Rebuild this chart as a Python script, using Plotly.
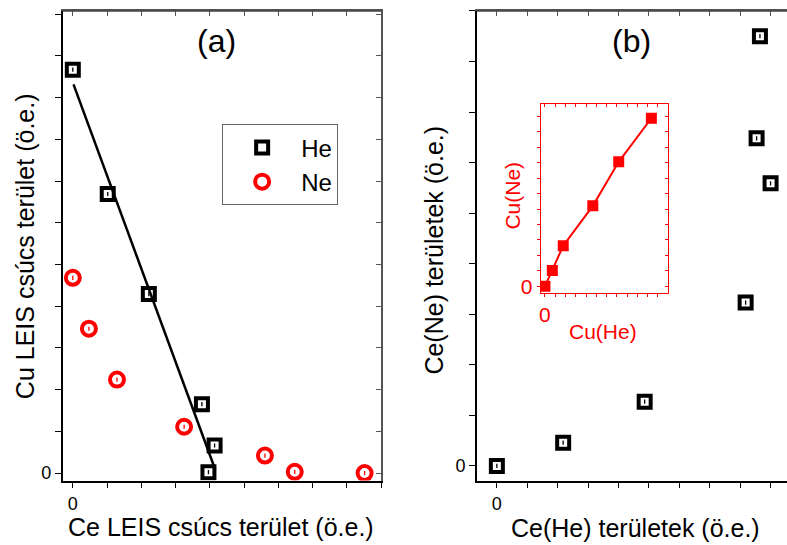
import plotly.graph_objects as go

# ---------------- data ----------------
# panel (a)
he_ce = [0.0, 1.02, 2.22, 3.77, 4.14, 3.96]
he_cu = [9.67, 6.69, 4.29, 1.65, 0.66, 0.02]
ne_ce = [0.0, 0.47, 1.29, 3.25, 5.61, 6.48, 8.52]
ne_cu = [4.68, 3.46, 2.24, 1.11, 0.42, 0.03, 0.0]
fit_x = [0.02, 4.16]
fit_y = [9.32, 0.08]
# panel (b)
ce_he = [0.0, 2.18, 4.86, 8.18, 9.00, 8.54, 8.65]
ce_ne = [0.0, 0.46, 1.27, 3.23, 5.59, 6.48, 8.50]
# inset
cu_he = [0.0, 0.72, 1.78, 4.66, 7.18, 10.36]
cu_ne = [0.0, 1.03, 2.63, 5.21, 8.06, 10.88]

# ticks
xa_ticks = list(range(0, 10))
ya_ticks = list(range(0, 12))
xb_ticks = list(range(0, 10))
yb_ticks = list(range(0, 10))
xi_ticks = list(range(0, 12))
yi_ticks = list(range(0, 12))


def lab(t):
    return ["0"] + [""] * (len(t) - 1)


W, H = 787, 545
FONT = "Arial, Liberation Sans, sans-serif"
RED = "#ff0000"


def px(x):
    return x / W


def py(y):
    return (H - y) / H


fig = go.Figure()


def dots(x, y, color, xa, ya):
    fig.add_trace(go.Scatter(x=x, y=y, mode="markers", showlegend=False, hoverinfo="skip",
                             marker=dict(symbol="line-ns-open", size=3, color=color,
                                         line=dict(width=1.3, color=color)),
                             xaxis=xa, yaxis=ya))


fig.add_trace(go.Scatter(x=fit_x, y=fit_y, mode="lines", line=dict(color="black", width=2.5),
                         showlegend=False, xaxis="x", yaxis="y"))
fig.add_trace(go.Scatter(x=he_ce, y=he_cu, mode="markers", name="He",
                         marker=dict(symbol="square-open", size=12, color="black",
                                     line=dict(width=4, color="black")),
                         xaxis="x", yaxis="y"))
dots(he_ce, he_cu, "black", "x", "y")
fig.add_trace(go.Scatter(x=ne_ce, y=ne_cu, mode="markers", name="Ne",
                         marker=dict(symbol="circle-open", size=14, color=RED,
                                     line=dict(width=4, color=RED)),
                         xaxis="x", yaxis="y"))
dots(ne_ce, ne_cu, RED, "x", "y")
fig.add_trace(go.Scatter(x=ce_he, y=ce_ne, mode="markers", showlegend=False,
                         marker=dict(symbol="square-open", size=12, color="black",
                                     line=dict(width=4, color="black")),
                         xaxis="x2", yaxis="y2"))
dots(ce_he, ce_ne, "black", "x2", "y2")
fig.add_trace(go.Scatter(x=cu_he, y=cu_ne, mode="lines+markers", showlegend=False,
                         line=dict(color=RED, width=2),
                         marker=dict(symbol="square", size=11, color=RED),
                         xaxis="x5", yaxis="y5"))

# empty traces so that the mirror axes get drawn
for xa, ya in [("x3", "y"), ("x", "y3"), ("x4", "y2"), ("x6", "y5"), ("x5", "y6")]:
    fig.add_trace(go.Scatter(x=[None], y=[None], mode="markers", showlegend=False,
                             hoverinfo="skip", xaxis=xa, yaxis=ya))

dom_y = [py(485), py(11)]
dom_xa = [px(60.7), px(380)]
dom_xb = [px(476), 1.0]
main_ax = dict(showline=True, linecolor="black", linewidth=1.5, ticks="outside", ticklen=6,
               tickwidth=1, tickcolor="black", showgrid=False, zeroline=False,
               tickfont=dict(size=18, color="black", family=FONT), tickmode="array")
mir_ax = dict(showline=True, linecolor="#555", linewidth=1.5, ticks="inside", ticklen=5,
              tickwidth=1, tickcolor="#555", showgrid=False, zeroline=False,
              showticklabels=False, tickmode="array")

xa_rng = [-0.3, 9.0]
ya_rng = [-0.18, 11.08]
xb_rng = [-0.66, 9.54]
yb_rng = [-0.29, 9.0]
xi_rng = [-0.42, 11.94]
yi_rng = [-0.43, 11.8]

ins_ax = dict(showline=True, linecolor=RED, linewidth=1, ticklen=3, tickwidth=1,
              tickcolor=RED, showgrid=False, zeroline=False, tickmode="array",
              tickfont=dict(size=21, color=RED, family=FONT))
ins_mir = dict(ins_ax, ticks="inside", showticklabels=False)

fig.update_layout(
    width=W, height=H, margin=dict(l=0, r=0, t=0, b=0),
    paper_bgcolor="white", plot_bgcolor="rgba(0,0,0,0)",
    font=dict(family=FONT, color="black"),
    xaxis=dict(main_ax, domain=dom_xa, range=xa_rng, anchor="y",
               tickvals=xa_ticks, ticktext=lab(xa_ticks)),
    yaxis=dict(main_ax, domain=dom_y, range=ya_rng, anchor="x",
               tickvals=ya_ticks, ticktext=lab(ya_ticks)),
    xaxis3=dict(mir_ax, overlaying="x", side="top", anchor="y",
                range=xa_rng, tickvals=xa_ticks),
    yaxis3=dict(mir_ax, overlaying="y", side="right", anchor="x", range=ya_rng,
                tickvals=ya_ticks),
    xaxis2=dict(main_ax, domain=dom_xb, range=xb_rng, anchor="y2",
                tickvals=xb_ticks, ticktext=lab(xb_ticks)),
    yaxis2=dict(main_ax, domain=dom_y, range=yb_rng, anchor="x2",
                tickvals=yb_ticks, ticktext=lab(yb_ticks)),
    xaxis4=dict(mir_ax, overlaying="x2", side="top", anchor="y2",
                range=xb_rng, tickvals=xb_ticks),
    xaxis5=dict(ins_ax, domain=[px(540), px(667.3)], range=xi_rng, anchor="y5",
                ticks="outside", tickvals=xi_ticks, ticktext=lab(xi_ticks)),
    yaxis5=dict(ins_ax, domain=[py(295.7), py(105)], range=yi_rng, anchor="x5",
                ticks="outside", tickvals=yi_ticks, ticktext=lab(yi_ticks)),
    xaxis6=dict(ins_mir, overlaying="x5", side="top", anchor="y5", range=xi_rng,
                tickvals=xi_ticks),
    yaxis6=dict(ins_mir, overlaying="y5", side="right", anchor="x5", range=yi_rng,
                tickvals=yi_ticks),
    legend=dict(x=px(220.7), y=py(125.5), xanchor="left", yanchor="top",
                bordercolor="#666", borderwidth=1, bgcolor="white",
                font=dict(size=24, family=FONT), itemwidth=68,
                tracegroupgap=0),
    showlegend=True,
)

# frame lines along the top of both main panels
for xr, yr in [("x domain", "y domain"), ("x2 domain", "y2 domain")]:
    fig.add_shape(type="line", xref=xr, yref=yr, x0=0, x1=1, y0=1, y1=1,
                  line=dict(color="#444", width=1.5), layer="above")

ann = [
    dict(text="(a)", x=px(215), y=py(41.7), size=32, color="black", angle=0),
    dict(text="(b)", x=px(630.7), y=py(41.7), size=32, color="black", angle=0),
    dict(text="Ce LEIS csúcs terület (ö.e.)", x=px(219.5), y=py(532), size=25, color="black", angle=0),
    dict(text="Cu LEIS csúcs terület (ö.e.)", x=px(23), y=py(248.5), size=25, color="black", angle=-90),
    dict(text="Ce(He) területek (ö.e.)", x=px(635.3), y=py(533), size=25, color="black", angle=0),
    dict(text="Ce(Ne) területek (ö.e.)", x=px(433), y=py(252), size=25, color="black", angle=-90),
    dict(text="Cu(He)", x=px(603), y=py(334.5), size=21, color=RED, angle=0),
    dict(text="Cu(Ne)", x=px(511.7), y=py(197), size=21, color=RED, angle=-90),
]
for a in ann:
    fig.add_annotation(text=a["text"], x=a["x"], y=a["y"], xref="paper", yref="paper",
                       xanchor="center", yanchor="middle", showarrow=False,
                       textangle=a["angle"],
                       font=dict(size=a["size"], color=a["color"], family=FONT))

fig.write_html("out.html")
